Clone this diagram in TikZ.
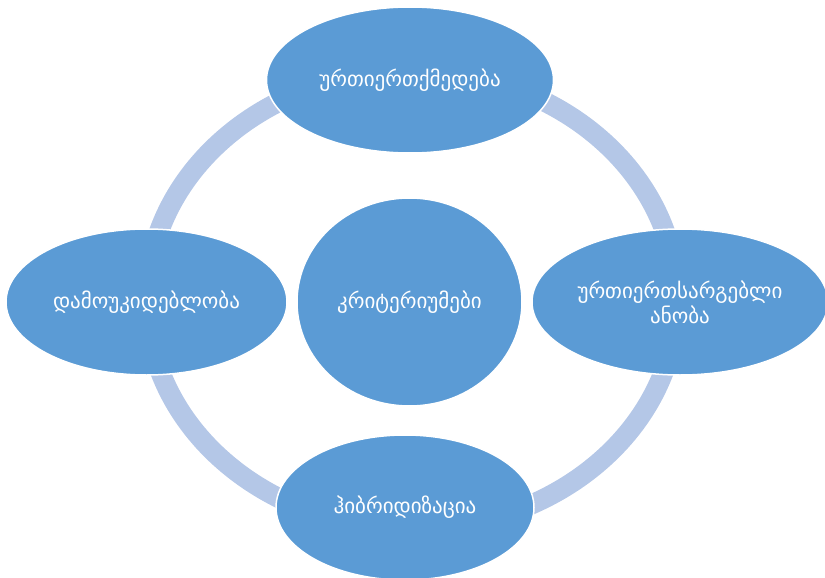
\documentclass[tikz,border=0pt]{standalone}
\usepackage{fontspec}
\newfontfamily\geofont{DejaVu Sans}
\usetikzlibrary{shapes.geometric}
\definecolor{nodeblue}{HTML}{5B9BD5}
\definecolor{ringblue}{HTML}{B4C7E7}
\tikzset{
    item/.style={ellipse, fill=nodeblue, draw=white, line width=1.5pt,
        text=white, align=center, font=\geofont\fontsize{21}{25}\selectfont,
        inner sep=0pt},
}

\begin{document}
\begin{tikzpicture}[x=1pt, y=-1pt]
        \useasboundingbox (0, 0) rectangle (825, 578);
        \clip (0, 0) rectangle (825, 578);
        \draw[ringblue, line width=20pt] (412, 300) ellipse [x radius=265, y radius=229];
        \node[item, minimum width=287pt, minimum height=146pt] (top) at (410, 80) {ურთიერთქმედება};
        \node[item, minimum width=281pt, minimum height=146pt] (left) at (146.5, 302) {დამოუკიდებლობა};
        \node[item, minimum width=296pt, minimum height=146pt] (right) at (680, 302) {ურთიერთსარგებლი\\ანობა};
        \node[item, minimum width=258pt, minimum height=145pt] (bottom) at (405, 507.5) {ჰიბრიდიზაცია};
        \node[item, minimum width=225pt, minimum height=208pt] (centre) at (409.5, 302) {კრიტერიუმები};
    \end{tikzpicture}
\end{document}
